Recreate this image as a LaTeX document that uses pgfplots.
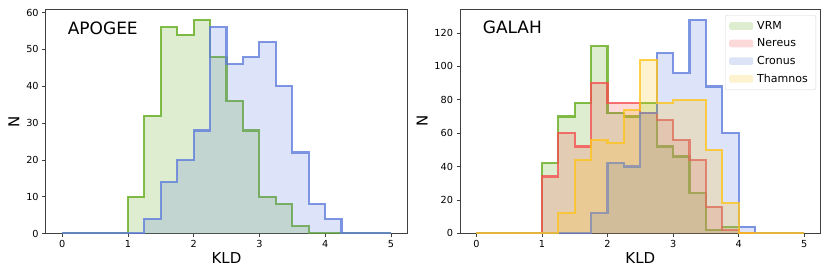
\documentclass[border=0pt]{standalone}
\usepackage{pgfplots}
\pgfplotsset{compat=1.18}
\usepackage{pgfplotstable}
\usepackage{fontspec}
\setmainfont{DejaVu Sans}
\definecolor{cG}{RGB}{100,172,30}
\definecolor{cR}{RGB}{245,80,80}
\definecolor{cB}{RGB}{95,125,220}
\definecolor{cY}{RGB}{255,196,30}

\pgfplotstableread{
x     vrm cro
0     0   0
0.25  0   0
0.5   0   0
0.75  0   0
1     10  0
1.25  32  4
1.5   56  14
1.75  54  20
2     58  28
2.25  48  56
2.5   36  46
2.75  28  48
3     10  52
3.25  8   40
3.5   2   22
3.75  0   8
4     0   4
4.25  0   0
4.5   0   0
4.75  0   0
5     0   0
}\apogee

\pgfplotstableread{
x     vrm ner cro tha
0     0   0   0   0
0.25  0   0   0   0
0.5   0   0   0   0
0.75  0   0   0   0
1     42  34  0   0
1.25  70  60  0   12
1.5   78  52  0   44
1.75  112 90  12  56
2     72  78  42  54
2.25  70  78  40  74
2.5   78  72  72  104
2.75  52  68  108 78
3     46  56  96  80
3.25  24  44  128 80
3.5   2   16  88  50
3.75  4   2   60  18
4     0   0   4   0
4.25  0   0   0   0
4.5   0   0   0   0
4.75  0   0   0   0
5     0   0   0   0
}\galah

\newcommand{\hist}[3]{%
  \addplot[const plot, draw=none, fill=#3, fill opacity=0.21] table[x=x,y=#2]{#1} \closedcycle;
  \addplot[const plot, draw=#3, line width=2.2pt, draw opacity=0.8, forget plot] table[x=x,y=#2]{#1};
}

\pgfplotsset{
  myax/.style={
    scale only axis,
    anchor=south west,
    xmin=-0.25, xmax=5.25,
    ymin=0,
    xtick={0,1,2,3,4,5},
    xtick pos=left, ytick pos=left,
    tick align=outside,
    major tick length=3.5pt,
    every tick/.style={black!75, line width=0.7pt},
    axis line style={black!75, line width=0.8pt},
    tick label style={font=\fontsize{9.7}{11}\selectfont},
    /pgf/number format/assume math mode=true,
    xlabel={KLD}, ylabel={N},
    label style={font=\fontsize{15}{17}\selectfont},
    xlabel style={yshift=2pt},
    legend image code/.code={\fill[##1] (0pt,-3.8pt) rectangle (24pt,3.8pt);},
  }
}

\begin{document}
\begin{tikzpicture}
\path[use as bounding box] (0,0) rectangle (830pt,277pt);
\begin{axis}[myax, at={(45.7pt,43.5pt)}, width=361.6pt, height=224.2pt,
  ymax=60.9, ytick={0,10,20,30,40,50,60}]
  \hist{\apogee}{vrm}{cG}
  \hist{\apogee}{cro}{cB}
  \node[anchor=base west, font=\fontsize{17}{19}\selectfont] at (rel axis cs:0.0514,0.8898) {APOGEE};
\end{axis}
\begin{axis}[myax, at={(460pt,43.7pt)}, width=360.7pt, height=224.3pt,
  ymax=134.4, ytick={0,20,40,60,80,100,120},
  legend style={at={(0.987,0.973)}, anchor=north east, draw=black!15, rounded corners=2pt,
    font=\fontsize{11}{13}\selectfont, row sep=4pt, inner xsep=4pt, inner ysep=4pt,
    nodes={inner xsep=4pt}},
  legend cell align=left]
  \hist{\galah}{vrm}{cG}
  \addlegendentry{VRM}
  \hist{\galah}{ner}{cR}
  \addlegendentry{Nereus}
  \hist{\galah}{cro}{cB}
  \addlegendentry{Cronus}
  \hist{\galah}{tha}{cY}
  \addlegendentry{Thamnos}
  \node[anchor=base west, font=\fontsize{17}{19}\selectfont] at (rel axis cs:0.0535,0.889) {GALAH};
\end{axis}
\end{tikzpicture}
\end{document}
